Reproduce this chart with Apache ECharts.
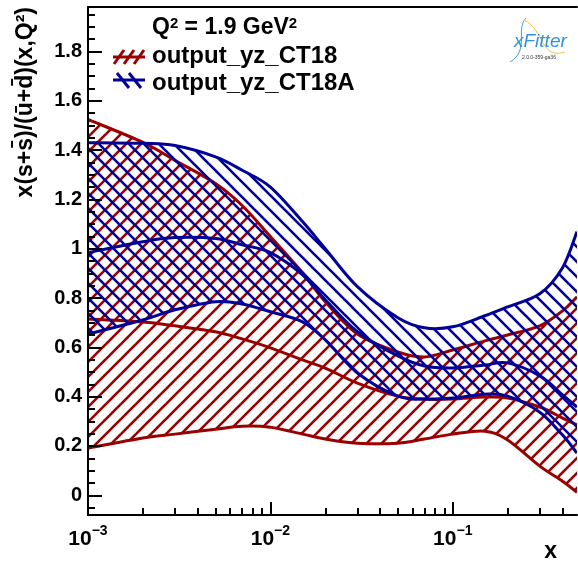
<!DOCTYPE html>
<html><head><meta charset="utf-8">
<script src="https://cdn.jsdelivr.net/npm/echarts@6/dist/echarts.min.js"></script>
<style>html,body{margin:0;padding:0;background:#fff}#c{width:578px;height:566px}</style>
</head><body><div id="c"></div>
<script>
// ---- data (x, and x(s+sbar)/(ubar+dbar) bands) ----
const xValues      = [0.001,0.002,0.003,0.005,0.007,0.01,0.015,0.02,0.03,0.05,0.07,0.1,0.15,0.2,0.3,0.4,0.48];
const ct18Upper    = [1.524,1.431,1.358,1.264,1.175,1.049,0.902,0.785,0.654,0.581,0.561,0.589,0.626,0.650,0.687,0.748,0.805];
const ct18Central  = [0.715,0.703,0.687,0.663,0.634,0.598,0.549,0.516,0.455,0.402,0.390,0.390,0.398,0.394,0.358,0.313,0.285];
const ct18Lower    = [0.191,0.232,0.248,0.268,0.280,0.276,0.248,0.228,0.211,0.211,0.228,0.248,0.260,0.224,0.118,0.057,0.012];
const ct18aUpper   = [1.430,1.427,1.418,1.372,1.318,1.250,1.110,1.000,0.846,0.720,0.679,0.683,0.728,0.764,0.817,0.923,1.069];
const ct18aCentral = [0.984,1.028,1.045,1.041,1.016,0.984,0.894,0.793,0.663,0.565,0.524,0.516,0.528,0.537,0.484,0.407,0.358];
const ct18aLower   = [0.654,0.711,0.752,0.785,0.776,0.744,0.703,0.630,0.496,0.402,0.390,0.394,0.410,0.402,0.337,0.244,0.171];
const seriesNames  = ['output_yz_CT18','output_yz_CT18A'];
const yTickValues  = [0,0.2,0.4,0.6,0.8,1.0,1.2,1.4,1.6,1.8];
const xDecades     = [-3,-2,-1];
const xMin = 0.001, xMax = 0.48, yMin = -0.08, yMax = 1.98;

const FONT = '"Liberation Sans", Arial, Helvetica, sans-serif';
const RED = '#990000', BLUE = '#000099';

function hatch(color, dir) {
  const s = 15, c = document.createElement('canvas');
  c.width = s; c.height = s;
  const g = c.getContext('2d');
  g.strokeStyle = color; g.lineWidth = 2.6;
  for (const k of [-s, 0, s]) {
    g.beginPath();
    if (dir > 0) { g.moveTo(k - 1, s + 1); g.lineTo(k + s + 1, -1); }
    else { g.moveTo(k - 1, -1); g.lineTo(k + s + 1, s + 1); }
    g.stroke();
  }
  return c;
}
const lx = xValues.map(v => Math.log10(v));

const minorY = [];
for (let v = -0.05; v < yMax; v += 0.05) minorY.push(Math.round(v * 100) / 100);
const minorX = [];
for (const d of xDecades) for (let m = 2; m <= 9; m++) { const v = m * Math.pow(10, d); if (v <= xMax) minorX.push(Math.log10(v)); }

// Catmull-Rom spline through pixel points -> SVG path segments
function splinePath(p, start) {
  let s = start ? 'M' + p[0][0] + ' ' + p[0][1] : 'L' + p[0][0] + ' ' + p[0][1];
  for (let i = 0; i < p.length - 1; i++) {
    const p0 = p[Math.max(i - 1, 0)], p1 = p[i], p2 = p[i + 1], p3 = p[Math.min(i + 2, p.length - 1)];
    const c1 = [p1[0] + (p2[0] - p0[0]) / 6, p1[1] + (p2[1] - p0[1]) / 6];
    const c2 = [p2[0] - (p3[0] - p1[0]) / 6, p2[1] - (p3[1] - p1[1]) / 6];
    s += 'C' + c1[0] + ' ' + c1[1] + ' ' + c2[0] + ' ' + c2[1] + ' ' + p2[0] + ' ' + p2[1];
  }
  return s;
}

function band(name, upper, central, lower, color, dir) {
  const pattern = { image: hatch(color, dir), repeat: 'repeat' };
  return {
    name, type: 'custom', coordinateSystem: 'cartesian2d', clip: true, silent: true,
    data: [[lx[0], lower[0]]],
    renderItem: (params, api) => {
      const up = upper.map((v, i) => api.coord([lx[i], v]));
      const lo = lower.map((v, i) => api.coord([lx[i], v]));
      const ce = central.map((v, i) => api.coord([lx[i], v]));
      const area = splinePath(up, true) + splinePath(lo.slice().reverse(), false) + 'Z';
      const stroke = { stroke: color, lineWidth: 3, fill: null };
      return { type: 'group', children: [
        { type: 'path', shape: { pathData: area }, style: { fill: pattern, stroke: null } },
        { type: 'path', shape: { pathData: splinePath(up, true) }, style: stroke },
        { type: 'path', shape: { pathData: splinePath(lo, true) }, style: stroke },
        { type: 'path', shape: { pathData: splinePath(ce, true) }, style: stroke }
      ] };
    }
  };
}

const chart = echarts.init(document.getElementById('c'), null, { renderer: 'canvas' });
const tickStyle = { color: '#000', width: 2 };
chart.setOption({
  animation: false,
  grid: { left: 88, right: 1, top: 7, bottom: 51 },
  xAxis: [
    { type: 'value', min: Math.log10(xMin), max: Math.log10(xMax), position: 'bottom', z: 5,
      axisLine: { show: true, onZero: false, lineStyle: tickStyle },
      axisTick: { show: true, inside: true, length: 13, customValues: xDecades, lineStyle: tickStyle },
      axisLabel: { customValues: xDecades, margin: 9, color: '#000',
        formatter: v => '{b|10}{s|\u2212' + (-Math.round(v)) + '}',
        rich: { b: { fontSize: 21, fontWeight: 'bold', fontFamily: FONT, color: '#000', lineHeight: 26, verticalAlign: 'bottom' },
                s: { fontSize: 14, fontWeight: 'bold', fontFamily: FONT, color: '#000', lineHeight: 14, verticalAlign: 'top' } } },
      splitLine: { show: false } },
    { type: 'value', min: Math.log10(xMin), max: Math.log10(xMax), position: 'bottom', z: 5,
      axisLine: { show: false, onZero: false },
      axisTick: { show: true, inside: true, length: 7, customValues: minorX, lineStyle: tickStyle },
      axisLabel: { show: false }, splitLine: { show: false } },
    { type: 'value', min: Math.log10(xMin), max: Math.log10(xMax), position: 'top', z: 5,
      axisLine: { show: true, onZero: false, lineStyle: tickStyle },
      axisTick: { show: false }, axisLabel: { show: false }, splitLine: { show: false } }
  ],
  yAxis: [
    { type: 'value', min: yMin, max: yMax, position: 'left', z: 5,
      axisLine: { show: true, onZero: false, lineStyle: tickStyle },
      axisTick: { show: true, inside: true, length: 14, customValues: yTickValues, lineStyle: tickStyle },
      axisLabel: { customValues: yTickValues, margin: 6, color: '#000', fontSize: 20, fontWeight: 'bold', fontFamily: FONT,
        formatter: v => String(Math.round(v * 10) / 10) },
      splitLine: { show: false } },
    { type: 'value', min: yMin, max: yMax, position: 'left', z: 5,
      axisLine: { show: false, onZero: false },
      axisTick: { show: true, inside: true, length: 7, customValues: minorY, lineStyle: tickStyle },
      axisLabel: { show: false }, splitLine: { show: false } }
  ],
  series: [
    band(seriesNames[0], ct18Upper, ct18Central, ct18Lower, RED, 1),
    band(seriesNames[1], ct18aUpper, ct18aCentral, ct18aLower, BLUE, -1)
  ],
  graphic: [
    { type: 'text', x: 37, y: 7, rotation: Math.PI / 2,
      style: { text: 'x(s+s\u0304)/(u\u0304+d\u0304)(x,Q\u00B2)', font: 'bold 23px ' + FONT, fill: '#000',
               align: 'right', verticalAlign: 'bottom' } },
    { type: 'text', x: 557, y: 563,
      style: { text: 'x', font: 'bold 23px ' + FONT, fill: '#000', align: 'right', verticalAlign: 'bottom' } },
    { type: 'text', x: 152, y: 16,
      style: { text: 'Q{s|2} = 1.9 GeV{s|2}', font: 'bold 23px ' + FONT, fill: '#000',
               rich: { s: { fontSize: 15, fontWeight: 'bold', fontFamily: FONT, verticalAlign: 'top', lineHeight: 14 } } } },
    // legend entries
    { type: 'line', shape: { x1: 113, y1: 57, x2: 145, y2: 57 }, style: { stroke: RED, lineWidth: 3 } },
    { type: 'line', shape: { x1: 114, y1: 64, x2: 124, y2: 50 }, style: { stroke: RED, lineWidth: 3 } },
    { type: 'line', shape: { x1: 124, y1: 64, x2: 134, y2: 50 }, style: { stroke: RED, lineWidth: 3 } },
    { type: 'line', shape: { x1: 134, y1: 64, x2: 144, y2: 50 }, style: { stroke: RED, lineWidth: 3 } },
    { type: 'text', x: 152, y: 56, style: { text: seriesNames[0], font: 'bold 24px ' + FONT, fill: '#000', verticalAlign: 'middle' } },
    { type: 'line', shape: { x1: 113, y1: 80, x2: 145, y2: 80 }, style: { stroke: BLUE, lineWidth: 3 } },
    { type: 'line', shape: { x1: 117, y1: 73, x2: 129, y2: 88 }, style: { stroke: BLUE, lineWidth: 3 } },
    { type: 'line', shape: { x1: 129, y1: 73, x2: 141, y2: 88 }, style: { stroke: BLUE, lineWidth: 3 } },
    { type: 'text', x: 152, y: 83, style: { text: seriesNames[1], font: 'bold 24px ' + FONT, fill: '#000', verticalAlign: 'middle' } },
    // xFitter logo (approximation)
    { type: 'bezierCurve', shape: { x1: 510, y1: 62, cpx1: 530, cpy1: 50, cpx2: 515, cpy2: 30, x2: 526, y2: 18 }, style: { stroke: '#3b9de0', lineWidth: 1, fill: null } },
    { type: 'bezierCurve', shape: { x1: 524, y1: 20, cpx1: 545, cpy1: 30, cpx2: 540, cpy2: 60, x2: 565, y2: 52 }, style: { stroke: '#f3c040', lineWidth: 1, fill: null } },
    { type: 'text', x: 514, y: 32, style: { text: 'xFitter', font: 'italic 19px ' + FONT, fill: '#2f95d8' } },
    { type: 'text', x: 522, y: 55, style: { text: '2.0.0-359-ga36', font: '5px ' + FONT, fill: '#333' } }
  ]
});
</script>
</body></html>
